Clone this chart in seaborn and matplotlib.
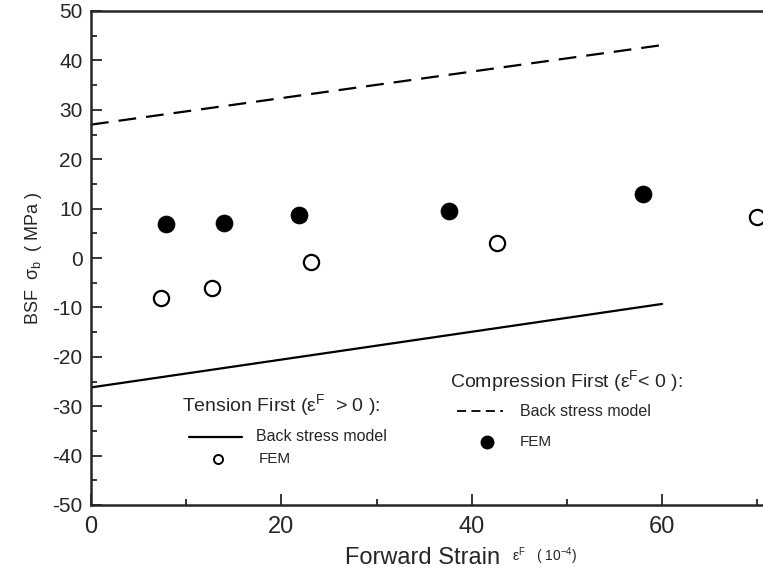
import matplotlib
matplotlib.use("Agg")
import matplotlib.pyplot as plt
import seaborn as sns
from matplotlib.ticker import MultipleLocator

# values
model_x = [0, 60]
tension_model_y = [-26.2, -9.3]
compression_model_y = [27.0, 43.1]

tension_fem_x = [7.4, 12.7, 23.1, 42.7, 70.0]
tension_fem_y = [-8.1, -6.1, -0.9, 3.1, 8.4]

compression_fem_x = [7.9, 14.0, 21.8, 37.6, 58.0]
compression_fem_y = [6.8, 7.1, 8.8, 9.5, 13.0]

x_ticks = [0, 20, 40, 60]
y_ticks = [-50, -40, -30, -20, -10, 0, 10, 20, 30, 40, 50]

sns.set_style("ticks")
plt.rcParams['font.family'] = ['Liberation Sans', 'DejaVu Sans']
plt.rcParams['mathtext.fontset'] = 'custom'
plt.rcParams['mathtext.rm'] = 'Liberation Sans'
plt.rcParams['mathtext.it'] = 'Liberation Sans:italic'
plt.rcParams['axes.unicode_minus'] = False

fig = plt.figure(figsize=(7.63, 5.73), dpi=100)
ax = fig.add_axes([91 / 763, 68 / 573, 672 / 763, 494 / 573])

sns.lineplot(x=model_x, y=tension_model_y, ax=ax, color='black', lw=1.6)
sns.lineplot(x=model_x, y=compression_model_y, ax=ax, color='black', lw=1.6,
             linestyle=(0, (8, 4.5)))
sns.scatterplot(x=compression_fem_x, y=compression_fem_y, ax=ax, color='black',
                s=150, edgecolor='black', linewidth=0.5)
sns.scatterplot(x=tension_fem_x, y=tension_fem_y, ax=ax, facecolor='white',
                edgecolor='black', s=120, linewidth=1.6)

ax.set_xlim(0, 70.6)
ax.set_ylim(-50, 50)
ax.set_xticks(x_ticks)
ax.set_yticks(y_ticks)
ax.xaxis.set_minor_locator(MultipleLocator(10))
ax.yaxis.set_minor_locator(MultipleLocator(5))
ax.tick_params(which='both', direction='in', top=False, right=False, width=1.3)
ax.tick_params(which='major', length=8)
ax.tick_params(which='minor', length=4)
ax.tick_params(axis='y', labelsize=15, pad=6)
ax.tick_params(axis='x', labelsize=17, pad=8)
ax.spines['right'].set_visible(False)
for s in ['left', 'bottom', 'top']:
    ax.spines[s].set_linewidth(1.8)

ax.set_ylabel(r"BSF  σ$_{\mathrm{b}}$  ( MPa )", fontsize=13, labelpad=6)

# x label: large words with smaller symbol/units
fig.text(345 / 763, 1 - 558 / 573, "Forward Strain", fontsize=17,
         ha='left', va='center')
fig.text(512 / 763, 1 - 556 / 573, r"ε$^{\mathrm{F}}$   ( 10$^{\mathrm{-4}}$)", fontsize=10,
         ha='left', va='center')

# in-plot key text
ax.text(0.135, 0.202, r"Tension First (ε$^{\mathrm{F}}$  > 0 ):", transform=ax.transAxes,
        fontsize=14, va='center', ha='left')
ax.plot([0.146, 0.225], [0.138, 0.138], transform=ax.transAxes, color='black', lw=1.6)
ax.text(0.246, 0.138, "Back stress model", transform=ax.transAxes, fontsize=11.5,
        va='center', ha='left')
ax.plot([0.189], [0.093], transform=ax.transAxes, marker='o', ms=6.5,
        mfc='white', mec='black', mew=1.4)
ax.text(0.249, 0.093, "FEM", transform=ax.transAxes, fontsize=11,
        va='center', ha='left')

ax.text(0.534, 0.251, r"Compression First (ε$^{\mathrm{F}}$< 0 ):", transform=ax.transAxes,
        fontsize=14, va='center', ha='left')
ax.plot([0.545, 0.613], [0.190, 0.190], transform=ax.transAxes, color='black', lw=1.3,
        linestyle=(0, (5, 3)))
ax.text(0.638, 0.190, "Back stress model", transform=ax.transAxes, fontsize=11.5,
        va='center', ha='left')
ax.plot([0.589], [0.128], transform=ax.transAxes, marker='o', ms=9,
        mfc='black', mec='black')
ax.text(0.638, 0.128, "FEM", transform=ax.transAxes, fontsize=11,
        va='center', ha='left')

fig.savefig("out.png", dpi=100)
